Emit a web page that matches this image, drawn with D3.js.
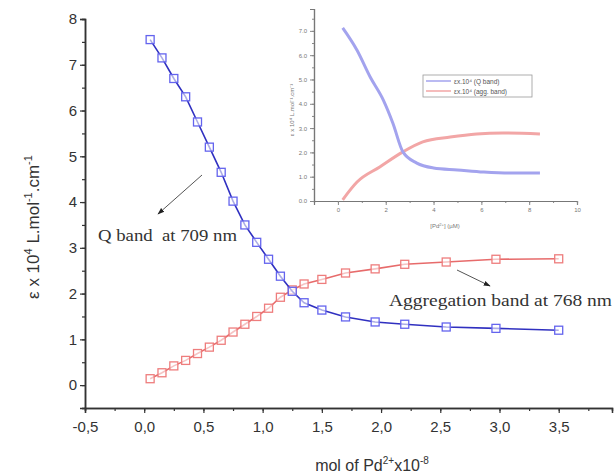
<!DOCTYPE html>
<html>
<head>
<meta charset="utf-8">
<script src="https://cdn.jsdelivr.net/npm/d3@7"></script>
<style>
  body { margin: 0; background: #fff; }
  svg { display: block; }
</style>
</head>
<body>
<svg id="chart" width="615" height="476"></svg>
<script>
// main chart data (x in mol x10^-8, y = epsilon x10^4)
var molPd = [0.05, 0.15, 0.25, 0.35, 0.45, 0.55, 0.65, 0.75, 0.85, 0.95, 1.05,
             1.15, 1.25, 1.35, 1.5, 1.7, 1.95, 2.2, 2.55, 2.97, 3.5];
var qBand = [7.55, 7.15, 6.7, 6.3, 5.75, 5.2, 4.65, 4.02, 3.5, 3.12, 2.75,
             2.38, 2.05, 1.8, 1.64, 1.49, 1.38, 1.33, 1.27, 1.24, 1.2];
var aggBand = [0.14, 0.27, 0.42, 0.54, 0.69, 0.83, 0.98, 1.16, 1.33, 1.5, 1.68,
               1.92, 2.08, 2.21, 2.31, 2.45, 2.54, 2.64, 2.69, 2.75, 2.76];
var xTicks = [-0.5, 0, 0.5, 1, 1.5, 2, 2.5, 3, 3.5];
var yTicks = [0, 1, 2, 3, 4, 5, 6, 7, 8];

// inset data ([Pd2+] in uM)
var insetX = [0.2, 0.8, 1.35, 1.9, 2.3, 2.72, 3.3, 4.0, 5.0, 6.1, 7.2, 8.45];
var insetQ = [7.12, 6.2, 5.1, 4.15, 3.2, 2.02, 1.56, 1.36, 1.28, 1.19, 1.15, 1.15];
var insetAggX = [0.2, 0.8, 1.75, 2.72, 3.55, 4.7, 5.8, 6.9, 8.45];
var insetAgg = [0.05, 0.78, 1.4, 2.02, 2.43, 2.63, 2.76, 2.8, 2.76];
var insetXTicks = [0, 2, 4, 6, 8, 10];
var insetYTicks = [0, 1, 2, 3, 4, 5, 6, 7];
var legendLabels = ["\u03b5x.10\u2074 (Q band)", "\u03b5x.10\u2074 (agg. band)"];

var svg = d3.select("#chart");
var axisColor = "#333";
var sans = "Liberation Sans, Arial, sans-serif";
var serif = "Liberation Serif, Times New Roman, serif";

var x = d3.scaleLinear().domain([-0.5, 3.95]).range([85, 612]);
var y = d3.scaleLinear().domain([-0.5, 8]).range([408, 19]);

// ---- main axes ----
var gx = svg.append("g").attr("transform", "translate(0," + y(-0.5) + ")");
gx.call(d3.axisBottom(x).tickValues(d3.range(-0.5, 3.76, 0.25)).tickSize(3).tickFormat(""));
gx.append("g").call(d3.axisBottom(x).tickValues(xTicks).tickSize(5)
  .tickFormat(function(d) { return d.toFixed(1).replace(".", ","); }));
var gy = svg.append("g").attr("transform", "translate(" + x(-0.5) + ",0)");
gy.call(d3.axisLeft(y).tickValues(d3.range(-0.5, 8.01, 0.5)).tickSize(3).tickFormat(""));
gy.append("g").call(d3.axisLeft(y).tickValues(yTicks).tickSize(5).tickFormat(d3.format("d")));
svg.selectAll(".domain").attr("stroke", axisColor).attr("stroke-width", 1.5);
svg.selectAll(".tick line").attr("stroke", axisColor).attr("stroke-width", 1.2);
svg.selectAll(".tick text").attr("fill", "#333").style("font-family", sans).style("font-size", "15px");
gx.selectAll(".tick text").attr("dy", "1.05em");

// axis titles
var yl = svg.append("text")
  .attr("transform", "translate(39,227) rotate(-90)")
  .attr("text-anchor", "middle")
  .style("font-family", sans).style("font-size", "17px").attr("fill", "#333");
yl.append("tspan").text("\u03b5 x 10");
yl.append("tspan").attr("dy", -7).style("font-size", "11px").text("4");
yl.append("tspan").attr("dy", 7).text(" L.mol");
yl.append("tspan").attr("dy", -7).style("font-size", "11px").text("-1");
yl.append("tspan").attr("dy", 7).text(".cm");
yl.append("tspan").attr("dy", -7).style("font-size", "11px").text("-1");

var xl = svg.append("text")
  .attr("x", 372).attr("y", 471)
  .attr("text-anchor", "middle")
  .style("font-family", sans).style("font-size", "16px").attr("fill", "#333");
xl.append("tspan").text("mol of Pd");
xl.append("tspan").attr("dy", -7).style("font-size", "10px").text("2+");
xl.append("tspan").attr("dy", 7).text("x10");
xl.append("tspan").attr("dy", -7).style("font-size", "10px").text("-8");

// ---- inset ----
var ix = d3.scaleLinear().domain([-1, 10]).range([314, 577]);
var iy = d3.scaleLinear().domain([0, 7.9]).range([201, 9]);
var inset = svg.append("g");
inset.append("rect").attr("x", 288).attr("y", 2).attr("width", 320).attr("height", 232).attr("fill", "#fff");

var igx = inset.append("g").attr("transform", "translate(0," + iy(0) + ")")
  .call(d3.axisBottom(ix).tickValues(d3.range(-1, 10.01, 1)).tickSize(2).tickFormat(""));
igx.append("g").call(d3.axisBottom(ix).tickValues(insetXTicks).tickSize(4).tickFormat(d3.format("d")));
var igy = inset.append("g").attr("transform", "translate(" + ix(-1) + ",0)")
  .call(d3.axisLeft(iy).tickValues(d3.range(0, 7.6, 0.5)).tickSize(2).tickFormat(""));
igy.append("g").call(d3.axisLeft(iy).tickValues(insetYTicks).tickSize(4).tickFormat(d3.format(".1f")));
inset.selectAll(".domain").attr("stroke", "#777").attr("stroke-width", 1.2);
inset.selectAll(".tick line").attr("stroke", "#888");
inset.selectAll(".tick text").attr("fill", "#777").style("font-size", "6px").style("font-family", sans);

var ixl = inset.append("text").attr("x", 445).attr("y", 228).attr("text-anchor", "middle")
  .style("font-size", "6px").style("font-family", sans).attr("fill", "#777");
ixl.append("tspan").text("[Pd");
ixl.append("tspan").attr("dy", -2).style("font-size", "4px").text("2+");
ixl.append("tspan").attr("dy", 2).text("] (\u00b5M)");
inset.append("text").attr("transform", "translate(294,110) rotate(-90)").attr("text-anchor", "middle")
  .style("font-size", "6px").style("font-family", sans).attr("fill", "#777")
  .text("\u03b5 x 10\u2074 L.mol\u207b\u00b9.cm\u207b\u00b9");

var iline = d3.line().curve(d3.curveMonotoneX)
  .x(function(d) { return ix(d[0]); }).y(function(d) { return iy(d[1]); });
inset.append("path").datum(d3.zip(insetAggX, insetAgg)).attr("d", iline)
  .attr("fill", "none").attr("stroke", "#f2a6a6").attr("stroke-width", 3);
inset.append("path").datum(d3.zip(insetX, insetQ)).attr("d", iline)
  .attr("fill", "none").attr("stroke", "#a3a3ee").attr("stroke-width", 3);

// inset legend
var lg = inset.append("g").attr("transform", "translate(423,75)");
lg.append("rect").attr("width", 109).attr("height", 22).attr("fill", "#fff")
  .attr("stroke", "#999").attr("stroke-width", 0.8);
legendLabels.forEach(function(t, i) {
  lg.append("line").attr("x1", 3).attr("x2", 28).attr("y1", 6 + i * 10).attr("y2", 6 + i * 10)
    .attr("stroke", i === 0 ? "#a3a3ee" : "#f2a6a6").attr("stroke-width", 1.5);
  lg.append("text").attr("x", 31).attr("y", 8.5 + i * 10).text(t)
    .style("font-size", "6.5px").style("font-family", sans).attr("fill", "#555");
});

// ---- main series ----
var line = d3.line().x(function(d) { return x(d[0]); }).y(function(d) { return y(d[1]); });
var series = [
  { vals: aggBand, line: "#e76b6b", mark: "#ee7d7d" },
  { vals: qBand, line: "#3030c0", mark: "#6464ee" }
];
series.forEach(function(s) {
  var pts = d3.zip(molPd, s.vals);
  svg.append("path").datum(pts).attr("d", line)
    .attr("fill", "none").attr("stroke", s.line).attr("stroke-width", 1.6);
  svg.append("g").selectAll("rect").data(pts).enter().append("rect")
    .attr("x", function(d) { return x(d[0]) - 4; })
    .attr("y", function(d) { return y(d[1]) - 4; })
    .attr("width", 8).attr("height", 8)
    .attr("fill", "#fff").attr("fill-opacity", 0.6)
    .attr("stroke", s.mark).attr("stroke-width", 1.3);
});

// ---- annotations ----
svg.append("defs").append("marker").attr("id", "arrow")
  .attr("viewBox", "0 0 10 10").attr("refX", 9).attr("refY", 5)
  .attr("markerWidth", 7).attr("markerHeight", 7).attr("orient", "auto")
  .append("path").attr("d", "M0,1.5 L10,5 L0,8.5 Z").attr("fill", "#222");

svg.append("line").attr("x1", 202).attr("y1", 175).attr("x2", 158).attr("y2", 214)
  .attr("stroke", "#555").attr("stroke-width", 1).attr("marker-end", "url(#arrow)");
svg.append("line").attr("x1", 457).attr("y1", 270).attr("x2", 490).attr("y2", 286)
  .attr("stroke", "#555").attr("stroke-width", 1).attr("marker-end", "url(#arrow)");

svg.append("text").attr("x", 98).attr("y", 241).text("Q band  at 709 nm")
  .attr("textLength", 139).attr("lengthAdjust", "spacingAndGlyphs")
  .style("font-family", serif).style("font-size", "16px")
  .style("white-space", "pre").attr("fill", "#333");
svg.append("text").attr("x", 389).attr("y", 306).text("Aggregation band at 768 nm")
  .attr("textLength", 223).attr("lengthAdjust", "spacingAndGlyphs")
  .style("font-family", serif).style("font-size", "16px")
  .attr("fill", "#333");
</script>
</body>
</html>
